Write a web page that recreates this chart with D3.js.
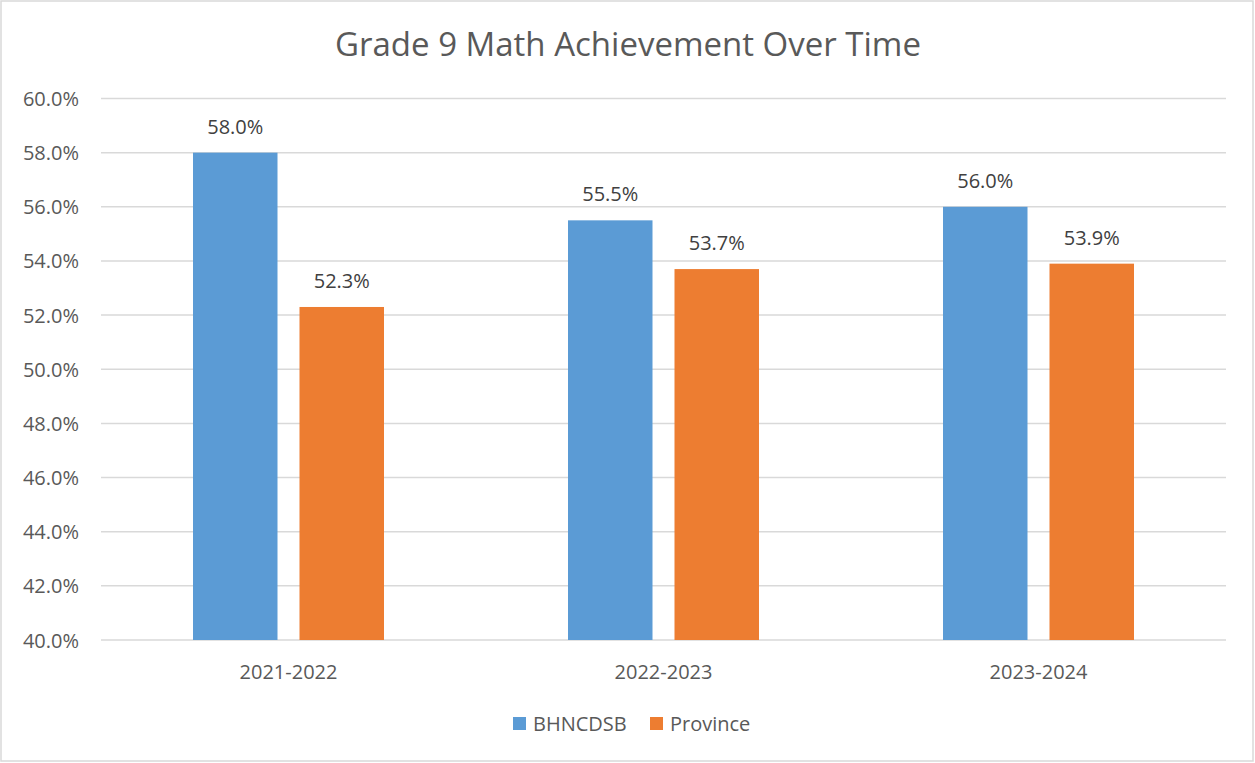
<!DOCTYPE html>
<html><head><meta charset="utf-8">
<script src="https://cdn.jsdelivr.net/npm/d3@7"></script>
<style>body{margin:0;background:#fff}svg{display:block}text{font-family:"Open Sans","Noto Sans",sans-serif}</style>
</head><body><svg id="c" width="1255" height="763"></svg>
<script>
const categories = ["2021-2022","2022-2023","2023-2024"];
const seriesNames = ["BHNCDSB","Province"];
const bhncdsb = [58.0,55.5,56.0];
const province = [52.3,53.7,53.9];
const yTicks = [40,42,44,46,48,50,52,54,56,58,60];
const colors = ["#5B9BD5","#ED7D31"];

const svg = d3.select("#c");
svg.append("rect").attr("x",1).attr("y",1).attr("width",1252).attr("height",760)
  .attr("fill","#fff").attr("stroke","#d9d9d9").attr("stroke-width",1.5);

const L=101,R=1226,T=98.5,B=640;
const x = d3.scaleBand().domain(categories).range([L,R]);
const y = d3.scaleLinear().domain([40,60]).range([B,T]);

const grid = svg.append("g");
grid.selectAll("line").data(yTicks).join("line")
  .attr("x1",L).attr("x2",R).attr("y1",d=>y(d)).attr("y2",d=>y(d))
  .attr("stroke","#d9d9d9").attr("stroke-width",1.5);

const yAxis = d3.axisLeft(y).tickValues(yTicks).tickSize(0).tickPadding(0).tickFormat(d=>d.toFixed(1)+"%");
const ya = svg.append("g").attr("transform",`translate(${L-22},0)`).call(yAxis);
ya.select(".domain").remove();
ya.selectAll("text").attr("font-size",20).attr("fill","#595959").attr("dy","0.35em");

const xAxis = d3.axisBottom(x).tickSize(0).tickPadding(0);
const xa = svg.append("g").attr("transform",`translate(0,${B+32})`).call(xAxis);
xa.select(".domain").remove();
xa.selectAll("text").attr("font-size",20).attr("fill","#595959").attr("dy","0.35em");

const barW = 84.5, gap = 22;
const series = [bhncdsb, province];
series.forEach((vals,si)=>{
  const off = si===0 ? -gap/2-barW : gap/2;
  const g = svg.append("g");
  g.selectAll("rect").data(vals).join("rect")
    .attr("x",(d,i)=>x(categories[i])+x.bandwidth()/2+off)
    .attr("y",d=>y(d)).attr("width",barW).attr("height",d=>B-y(d))
    .attr("fill",colors[si]);
  g.selectAll("text").data(vals).join("text")
    .attr("x",(d,i)=>x(categories[i])+x.bandwidth()/2+off+barW/2)
    .attr("y",d=>y(d)-26).attr("dy","0.35em")
    .attr("text-anchor","middle").attr("font-size",20).attr("fill","#404040")
    .text(d=>d.toFixed(1)+"%");
});

svg.append("text").attr("x",628).attr("y",44).attr("dy","0.35em").attr("text-anchor","middle")
  .attr("font-size",33).attr("fill","#595959").text("Grade 9 Math Achievement Over Time");

const leg = svg.append("g");
const legX = [513,650];
seriesNames.forEach((n,i)=>{
  leg.append("rect").attr("x",legX[i]).attr("y",717).attr("width",13).attr("height",13).attr("fill",colors[i]);
  leg.append("text").attr("x",legX[i]+20).attr("y",724).attr("dy","0.35em")
    .attr("font-size",20).attr("fill","#595959").text(n);
});
</script></body></html>
